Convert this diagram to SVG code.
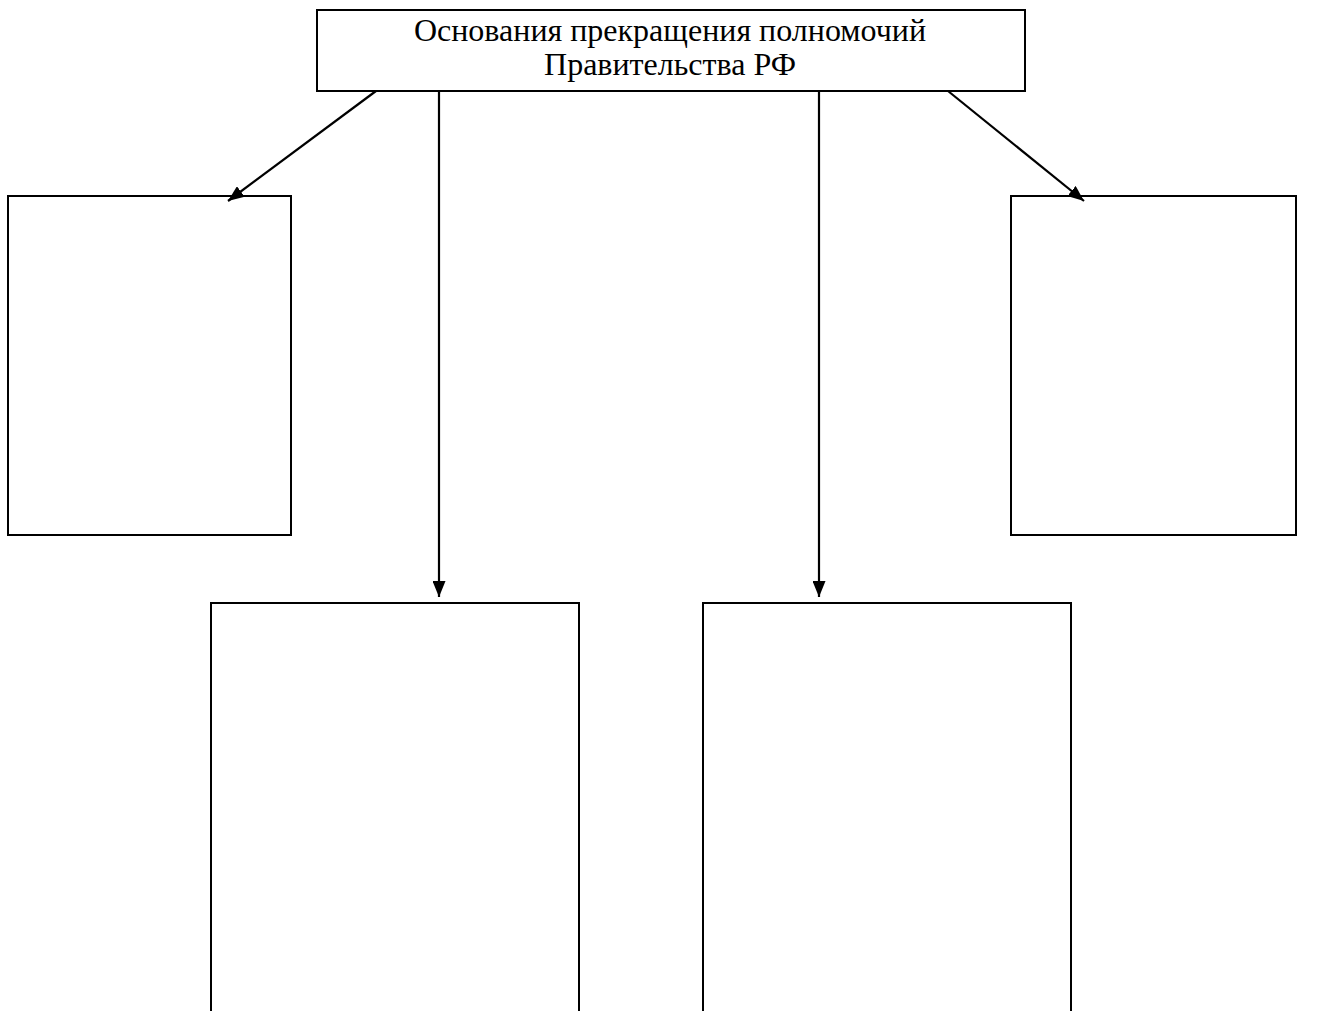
<svg xmlns="http://www.w3.org/2000/svg" width="1329" height="1011" viewBox="0 0 1329 1011">
<style>
.box{fill:#fff;stroke:#000;stroke-width:2}
.con{stroke:#000;stroke-width:2.2;fill:none}
.t{font-family:"Liberation Serif",serif;font-size:32px;fill:#000;text-anchor:middle}
</style>
<defs>
<marker id="ah" viewBox="0 0 16 13" refX="16" refY="6.5" markerWidth="16" markerHeight="13" markerUnits="userSpaceOnUse" orient="auto">
<path d="M0,0 L16,6.5 L0,13 z" fill="#000"/>
</marker>
</defs>
<rect width="1329" height="1011" fill="#fff"/>
<g id="top">
<rect class="box" x="317" y="10" width="708" height="81"/>
<text class="t" x="670" y="41">Основания прекращения полномочий</text>
<text class="t" x="670" y="75">Правительства РФ</text>
</g>
<g id="left"><rect class="box" x="8" y="196" width="283" height="339"/></g>
<g id="right"><rect class="box" x="1011" y="196" width="285" height="339"/></g>
<g id="bl"><rect class="box" x="211" y="603" width="368" height="420"/></g>
<g id="br"><rect class="box" x="703" y="603" width="368" height="420"/></g>
<g id="connectors">
<line class="con" x1="376" y1="91" x2="228" y2="201" marker-end="url(#ah)"/>
<line class="con" x1="439" y1="91" x2="439" y2="597" marker-end="url(#ah)"/>
<line class="con" x1="819" y1="91" x2="819" y2="597" marker-end="url(#ah)"/>
<line class="con" x1="948" y1="91" x2="1084" y2="201" marker-end="url(#ah)"/>
</g>
</svg>
